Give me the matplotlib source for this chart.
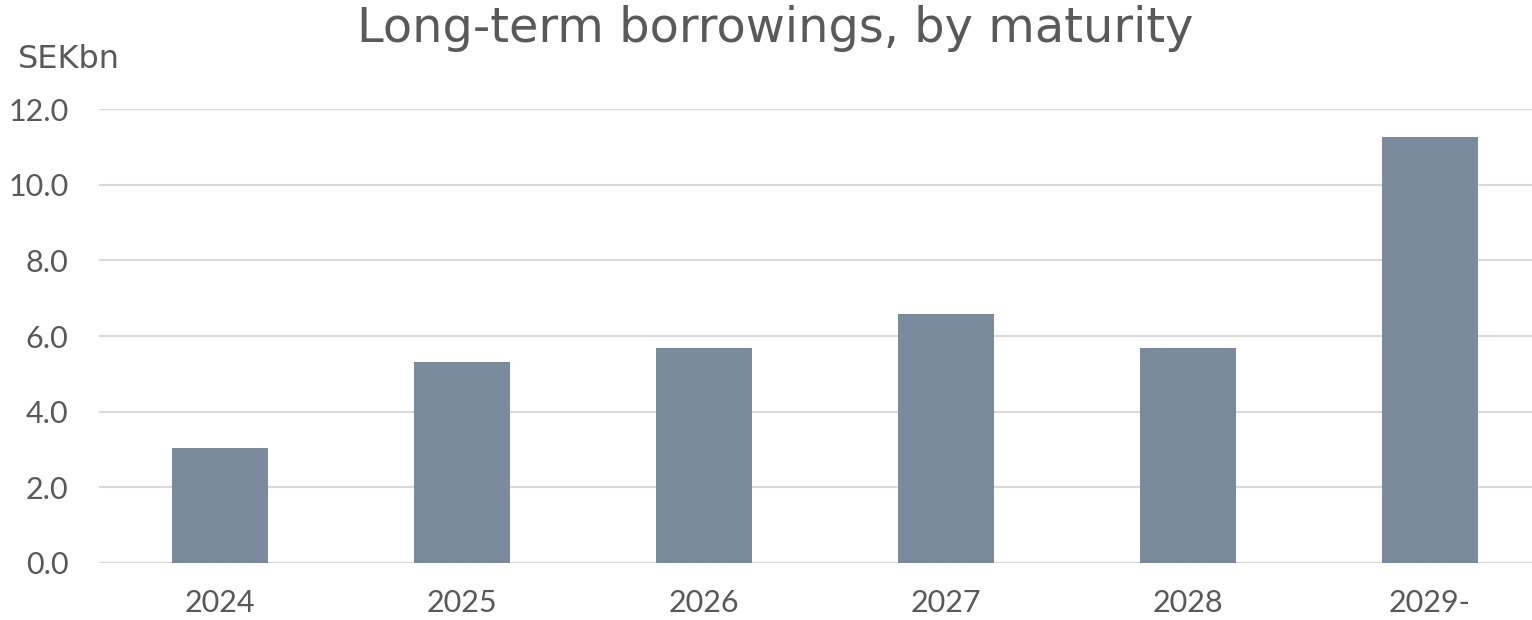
import matplotlib
matplotlib.use('Agg')
import matplotlib.pyplot as plt
import numpy as np

categories = ['2024', '2025', '2026', '2027', '2028', '2029-']
values = [3.05, 5.32, 5.69, 6.58, 5.68, 11.27]
y_ticks = [0, 2, 4, 6, 8, 10, 12]

plt.rcParams['font.family'] = ['Lato', 'DejaVu Sans']
text_color = '#595959'
bar_color = '#7b8a9c'

fig = plt.figure(figsize=(15.32, 6.2), dpi=100)
ax = fig.add_axes([99/1532, 57/620, 1452/1532, 454/620])

x = np.arange(len(categories))
ax.bar(x, values, width=0.40, color=bar_color, zorder=3)

ax.set_xlim(-0.5, len(categories) - 0.5)
ax.set_ylim(0, 12)
ax.set_yticks(y_ticks)
ax.set_yticklabels([f'{v:.1f}' for v in y_ticks])
ax.set_xticks(x)
ax.set_xticklabels(categories)
ax.yaxis.grid(True, color='#d9d9d9', linewidth=1.5, zorder=0)
ax.tick_params(axis='both', length=0, labelsize=22, labelcolor=text_color)
ax.tick_params(axis='y', pad=22)
ax.tick_params(axis='x', pad=19)
for s in ax.spines.values():
    s.set_visible(False)

fig.text(775/1532, 1 - 28/620, 'Long-term borrowings, by maturity', ha='center', va='center',
         fontsize=34.5, color=text_color, family=['DejaVu Sans'])
fig.text(18/1532, 1 - 60/620, 'SEKbn', ha='left', va='center', fontsize=23, color=text_color,
         family=['DejaVu Sans'])

fig.savefig('out.png', dpi=100)
